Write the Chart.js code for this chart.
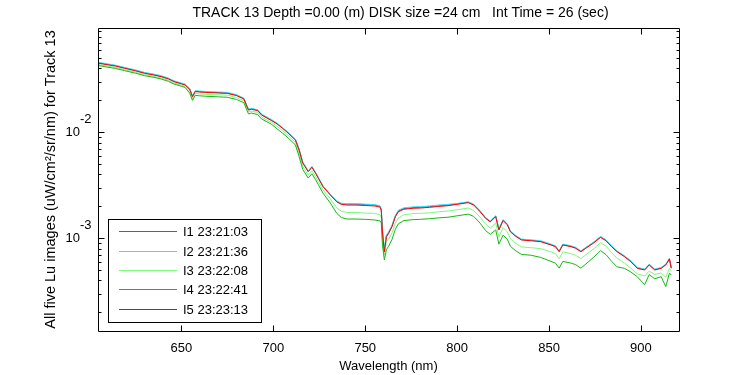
<!DOCTYPE html>
<html><head><meta charset="utf-8">
<script src="https://cdn.jsdelivr.net/npm/chart.js@4.4.0/dist/chart.umd.min.js"></script>
<style>html,body{margin:0;padding:0;background:#fff;}#wrap{width:750px;height:375px;}</style>
</head><body><div id="wrap"><canvas id="c" width="750" height="375"></canvas></div>
<script>
// ---- data ----
const wavelength = [605,610,614,619,625,630,635,639,643,646,650,652,
  654.5,656,657.5,660,663,670,675,680,684,685.5,686.5,688,691.5,693.5,696,699,
  702,705,708,712,
  714,716,719,721,723,724.5,727,731,734.5,
  737,
  740,745,750,755,758,
  758.7,759.4,760.4,761.5,762.7,764.6,766.4,768,
  771,776,780,785,790,795,800,
  806,809,812.5,815.5,818,821,822.7,825,827.3,829,832,835,
  840,845.5,851,853.5,855.5,857.5,862,864.5,867.3,870,874,878,881,884,887,891,894.5,898,902,904.5,907.5,911,913.5,915.5,916.5];

const lu1 = [0.0452,0.0437,0.0426,0.0406,0.0384,0.0364,0.0350,0.0338,0.0321,0.0303,0.0289,0.0282,
  0.0257,0.0219,0.0244,0.0242,0.0240,0.0237,0.0235,0.0224,0.0208,0.0179,0.0164,0.0167,0.0162,0.0147,0.0139,0.0130,
  0.0121,0.0110,0.00995,0.00854,
  0.00688,0.00518,0.00429,0.00472,0.00414,0.00372,0.00310,0.00259,0.00223,
  0.00211,
  0.00210,0.00210,0.00208,0.00206,0.00201,
  0.00187,0.00114,0.000760,0.00105,0.00113,0.00131,0.00163,0.00181,
  0.00191,0.00195,0.00196,0.00199,0.00203,0.00206,0.00212,
  0.00219,0.00208,0.00180,0.00156,0.00144,0.00162,0.00121,0.00148,0.00135,0.00116,0.00105,0.000974,
  0.000958,0.000938,0.000874,0.000841,0.000754,0.000874,0.000841,0.000813,0.000754,0.000813,0.000906,0.00103,0.000958,0.000841,0.000754,0.000678,0.000607,0.000526,0.000507,0.000566,0.000507,0.000526,0.000566,0.000644,0.000526];

const lu2 = [0.0457,0.0442,0.0430,0.0410,0.0388,0.0367,0.0354,0.0342,0.0324,0.0306,0.0292,0.0285,
  0.0259,0.0221,0.0247,0.0245,0.0243,0.0240,0.0238,0.0226,0.0210,0.0181,0.0165,0.0168,0.0163,0.0149,0.0141,0.0132,
  0.0122,0.0111,0.0100,0.00863,
  0.00695,0.00523,0.00434,0.00476,0.00418,0.00375,0.00313,0.00261,0.00226,
  0.00214,
  0.00212,0.00212,0.00210,0.00208,0.00203,
  0.00190,0.00118,0.000790,0.00108,0.00115,0.00134,0.00165,0.00184,
  0.00194,0.00198,0.00199,0.00202,0.00206,0.00209,0.00213,
  0.00221,0.00210,0.00182,0.00157,0.00146,0.00163,0.00123,0.00150,0.00137,0.00117,0.00106,0.000983,
  0.000968,0.000948,0.000882,0.000850,0.000762,0.000882,0.000850,0.000821,0.000762,0.000821,0.000915,0.00104,0.000968,0.000850,0.000762,0.000684,0.000613,0.000531,0.000512,0.000571,0.000512,0.000531,0.000571,0.000620,0.000531];

const lu3 = [0.0435,0.0420,0.0409,0.0390,0.0369,0.0349,0.0337,0.0325,0.0308,0.0291,0.0277,0.0271,
  0.0244,0.0208,0.0232,0.0230,0.0228,0.0226,0.0224,0.0213,0.0198,0.0170,0.0156,0.0158,0.0154,0.0140,0.0132,0.0124,
  0.0114,0.0104,0.00936,0.00804,
  0.00633,0.00477,0.00395,0.00434,0.00381,0.00342,0.00286,0.00236,0.00194,
  0.00180,
  0.00175,0.00175,0.00173,0.00172,0.00167,
  0.00159,0.000986,0.000700,0.00093,0.00098,0.00113,0.00139,0.00155,
  0.00167,0.00171,0.00172,0.00174,0.00178,0.00181,0.00186,
  0.00193,0.00183,0.00158,0.00136,0.00125,0.00139,0.00103,0.00126,0.00115,0.000989,0.000894,0.000829,
  0.000816,0.000799,0.000744,0.000716,0.000642,0.000744,0.000716,0.000692,0.000642,0.000700,0.000789,0.000908,0.000845,0.000733,0.000650,0.000584,0.000523,0.000463,0.000440,0.000490,0.000455,0.000470,0.000430,0.000520,0.000490];

const lu4 = [0.0426,0.0411,0.0401,0.0382,0.0361,0.0342,0.0330,0.0318,0.0302,0.0285,0.0272,0.0265,
  0.0234,0.0200,0.0223,0.0221,0.0219,0.0216,0.0214,0.0204,0.0190,0.0163,0.0149,0.0152,0.0147,0.0134,0.0127,0.0119,
  0.0108,0.00981,0.00887,0.00761,
  0.00592,0.00446,0.00370,0.00406,0.00357,0.00320,0.00267,0.00215,0.00172,
  0.00157,
  0.00152,0.00152,0.00151,0.00149,0.00146,
  0.00140,0.00085,0.000624,0.00078,0.00084,0.00098,0.00122,0.00137,
  0.00147,0.00150,0.00151,0.00153,0.00156,0.00158,0.00163,
  0.00169,0.00161,0.00139,0.00118,0.00109,0.00120,0.00088,0.00107,0.00098,0.00084,0.00076,0.000704,
  0.000693,0.000660,0.000606,0.000583,0.000523,0.000606,0.000583,0.000564,0.000523,0.000572,0.000655,0.000765,0.000702,0.000608,0.000538,0.000521,0.000481,0.000434,0.000365,0.000455,0.000415,0.000434,0.000350,0.000470,0.000450];

const lu5 = [0.0448,0.0433,0.0422,0.0402,0.0380,0.0360,0.0347,0.0335,0.0318,0.0300,0.0286,0.0279,
  0.0254,0.0217,0.0242,0.0240,0.0238,0.0235,0.0233,0.0222,0.0206,0.0177,0.0162,0.0165,0.0160,0.0146,0.0138,0.0129,
  0.0120,0.0109,0.00985,0.00846,
  0.00681,0.00513,0.00425,0.00467,0.00410,0.00368,0.00307,0.00256,0.00221,
  0.00209,
  0.00206,0.00206,0.00204,0.00202,0.00197,
  0.00185,0.00112,0.000743,0.00103,0.00111,0.00129,0.00160,0.00178,
  0.00188,0.00192,0.00193,0.00196,0.00200,0.00203,0.00209,
  0.00217,0.00206,0.00178,0.00154,0.00143,0.00160,0.00120,0.00147,0.00134,0.00115,0.00104,0.000964,
  0.000949,0.000929,0.000865,0.000833,0.000747,0.000865,0.000833,0.000805,0.000747,0.000805,0.000897,0.00102,0.000949,0.000833,0.000747,0.000671,0.000601,0.000521,0.000502,0.000560,0.000502,0.000521,0.000560,0.000638,0.000521];

const seriesLabels = ['I1 23:21:03','I2 23:21:36','I3 23:22:08','I4 23:22:41','I5 23:23:13'];
const seriesColors = ['#1f6fd8','#2fe3f2','#7dfa7d','#16b816','#ff0000'];
const xTicks = [650,700,750,800,850,900];
const yTickExponents = [-2,-3];
const titleText = 'TRACK 13 Depth =0.00 (m) DISK size =24 cm   Int Time = 26 (sec)';
const xTitle = 'Wavelength (nm)';
const yTitle = 'All five Lu images (uW/cm\u00B2/sr/nm) for Track 13';

const FONT = '"Liberation Sans", Arial, Helvetica, sans-serif';
const FS = 13;

const seriesValues = [lu1, lu2, lu3, lu4, lu5];
const datasets = seriesValues.map((vals, i) => ({
  label: seriesLabels[i],
  data: wavelength.map((w, j) => ({x: w, y: vals[j]})),
  borderColor: seriesColors[i],
  borderWidth: 1,
  pointRadius: 0,
  tension: 0,
  fill: false,
  order: 5 - i
}));

const matlabAxes = {
  id: 'matlabAxes',
  beforeDraw(chart) {
    const c = chart.ctx;
    c.save(); c.fillStyle = '#fff'; c.fillRect(0, 0, chart.width, chart.height); c.restore();
  },
  afterDatasetsDraw(chart) {
    const c = chart.ctx;
    const L = 108.5, T = 219.5, W = 153, H = 103;
    c.save();
    c.fillStyle = '#fff';
    c.fillRect(L, T, W, H);
    c.strokeStyle = '#000'; c.lineWidth = 1;
    c.strokeRect(L, T, W, H);
    const rows = [231.5, 251.5, 270.5, 289.5, 309.5];
    c.font = FS + 'px ' + FONT;
    c.textBaseline = 'middle';
    c.textAlign = 'left';
    chart.data.datasets.forEach((ds, i) => {
      c.strokeStyle = ds.borderColor;
      c.beginPath(); c.moveTo(119, rows[i]); c.lineTo(177, rows[i]); c.stroke();
      c.fillStyle = '#000';
      c.fillText(ds.label, 183, rows[i] + 0.5);
    });
    c.restore();
  },
  afterDraw(chart) {
    const c = chart.ctx, a = chart.chartArea;
    const xs = chart.scales.x, ys = chart.scales.y;
    c.save();
    c.strokeStyle = '#000'; c.lineWidth = 1;
    const l = Math.round(a.left) + 0.5, r = Math.round(a.right) + 0.5;
    const t = Math.round(a.top) + 0.5, b = Math.round(a.bottom) + 0.5;
    c.beginPath();
    c.moveTo(l, t); c.lineTo(r, t); c.lineTo(r, b); c.lineTo(l, b); c.closePath();
    xTicks.forEach(v => {
      const px = Math.round(xs.getPixelForValue(v)) + 0.5;
      c.moveTo(px, b); c.lineTo(px, b - 6);
      c.moveTo(px, t); c.lineTo(px, t + 6);
    });
    for (let e = -5; e <= 0; e++) {
      for (let m = 1; m <= 9; m++) {
        const v = m * Math.pow(10, e);
        if (v < ys.min || v > ys.max) continue;
        const py = Math.round(ys.getPixelForValue(v)) + 0.5;
        const len = m === 1 ? 6 : 3;
        c.moveTo(l, py); c.lineTo(l + len, py);
        c.moveTo(r, py); c.lineTo(r - len, py);
      }
    }
    c.stroke();
    c.fillStyle = '#000';
    c.font = FS + 'px ' + FONT;
    c.textAlign = 'center'; c.textBaseline = 'middle';
    xTicks.forEach(v => c.fillText(String(v), xs.getPixelForValue(v), 348));
    yTickExponents.forEach(e => {
      const py = ys.getPixelForValue(Math.pow(10, e));
      c.textAlign = 'right'; c.fillText('10', 80, py);
      c.textAlign = 'left'; c.fillText(String(e), 80, py - 13);
    });
    c.textAlign = 'center';
    c.fillText(xTitle, (a.left + a.right) / 2, 366);
    c.font = '14px ' + FONT;
    c.fillText(titleText, (a.left + a.right) / 2 + 12, 13);
    c.save();
    c.font = '14.5px ' + FONT;
    c.translate(51, (a.top + a.bottom) / 2);
    c.rotate(-Math.PI / 2);
    c.fillText(yTitle, 0, 0);
    c.restore();
    c.restore();
  }
};

new Chart(document.getElementById('c'), {
  type: 'line',
  data: { datasets },
  options: {
    responsive: false,
    animation: false,
    devicePixelRatio: 1,
    layout: { padding: { left: 98, right: 71, top: 28, bottom: 44 } },
    plugins: { legend: { display: false }, tooltip: { enabled: false }, title: { display: false } },
    scales: {
      x: { type: 'linear', min: 604.6, max: 920.7, display: false },
      y: { type: 'logarithmic', min: 1.335e-4, max: 0.0964, display: false }
    }
  },
  plugins: [matlabAxes]
});
</script>
</body></html>
